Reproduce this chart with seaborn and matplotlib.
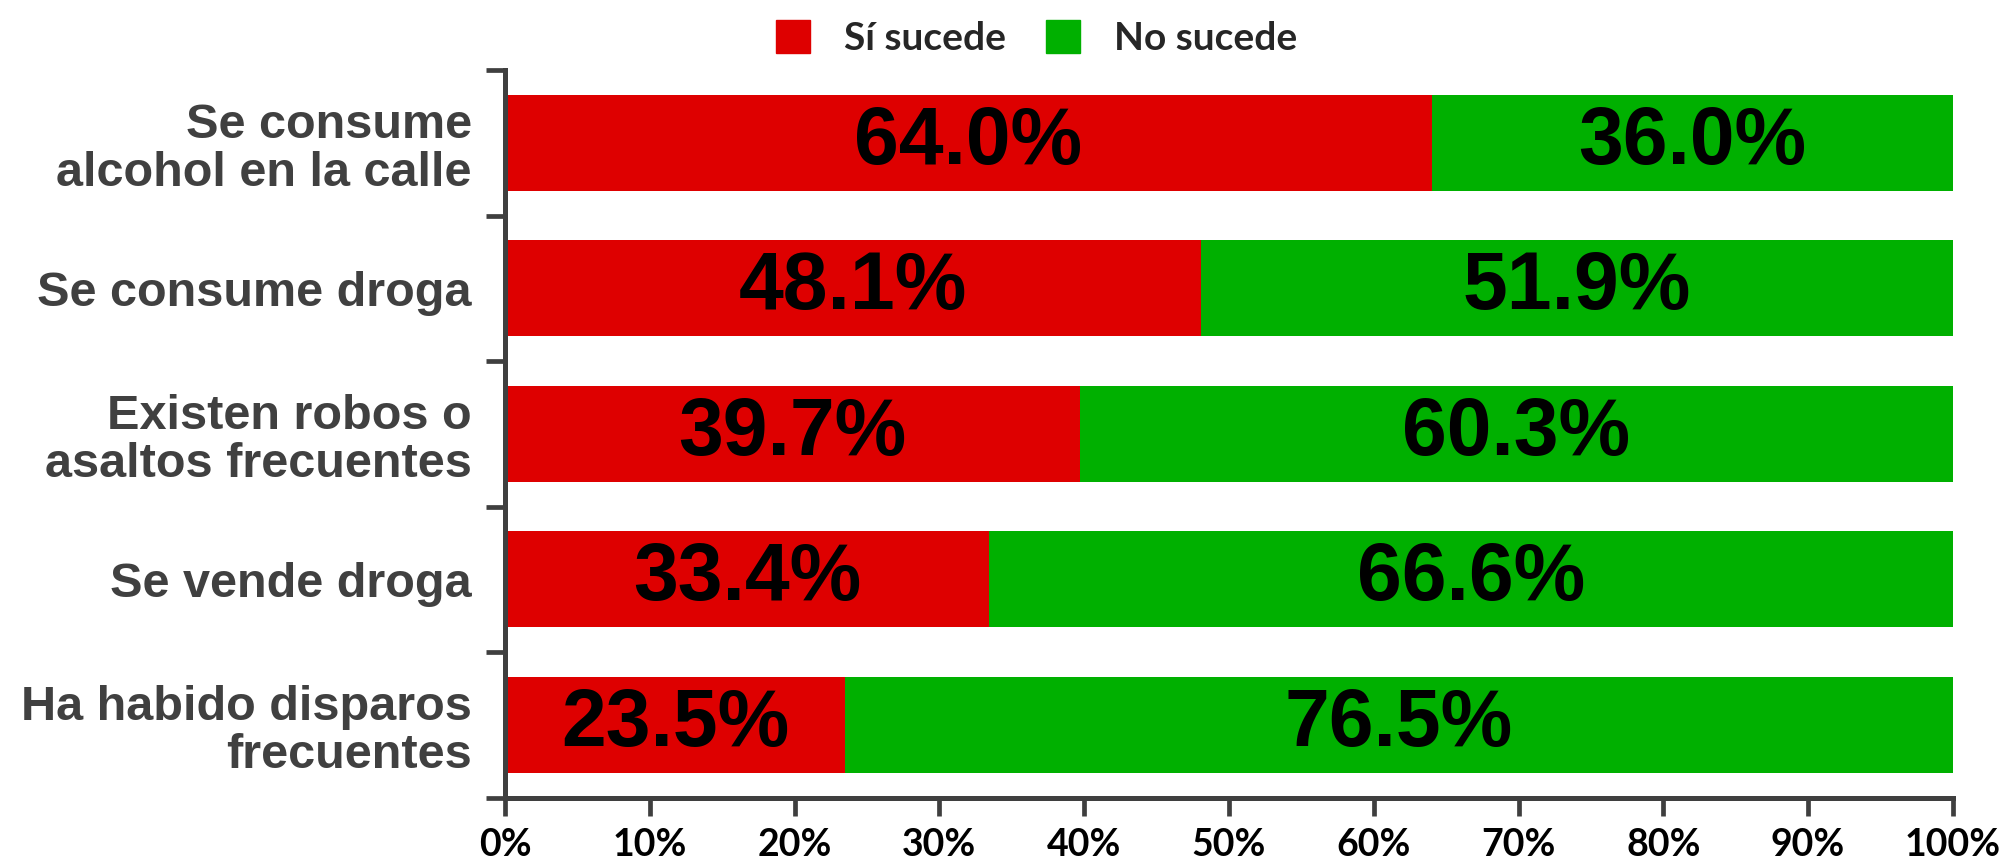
import seaborn as sns
import matplotlib.pyplot as plt
import matplotlib.patches as mpatches
import pandas as pd

RED = '#DE0000'
GREEN = '#00B000'
AXIS_GREY = '#3f3f3f'

categories = ['Se consume\nalcohol en la calle',
              'Se consume droga',
              'Existen robos o\nasaltos frecuentes',
              'Se vende droga',
              'Ha habido disparos\nfrecuentes']
si_sucede = [64.0, 48.1, 39.7, 33.4, 23.5]
no_sucede = [36.0, 51.9, 60.3, 66.6, 76.5]
x_ticks = [0, 10, 20, 30, 40, 50, 60, 70, 80, 90, 100]
legend_labels = ['Sí sucede', 'No sucede']

df = pd.DataFrame({'categoria': categories, 'si': si_sucede, 'no': no_sucede})
df['total'] = df['si'] + df['no']

sns.set_theme(style='white')
plt.rcParams['font.family'] = ['Liberation Sans', 'DejaVu Sans']

fig = plt.figure(figsize=(20.05, 8.61), dpi=100)
ax = fig.add_axes([0.2519, 0.0735, 0.7221, 0.845])

# stacked bars: full length green first, red on top
sns.barplot(data=df, x='total', y='categoria', color=GREEN, width=0.66,
            saturation=1, ax=ax, orient='h', linewidth=0)
sns.barplot(data=df, x='si', y='categoria', color=RED, width=0.66,
            saturation=1, ax=ax, orient='h', linewidth=0)

# value labels
for i, (s, n) in enumerate(zip(si_sucede, no_sucede)):
    ax.text(s / 2, i, f'{s:.1f}%', ha='center', va='center',
            fontsize=58, fontweight='bold', color='black')
    ax.text(s + n / 2, i, f'{n:.1f}%', ha='center', va='center',
            fontsize=58, fontweight='bold', color='black')

ax.set_xlim(0, 100)
ax.set_ylim(4.5, -0.5)
ax.set_xlabel('')
ax.set_ylabel('')

ax.set_xticks(x_ticks)
ax.set_xticklabels([f'{t}%' for t in x_ticks], fontsize=27, fontweight='bold',
                   family='Lato', color='black')
ax.tick_params(axis='x', direction='out', length=13, width=3.4,
               color=AXIS_GREY, pad=9, bottom=True)

ax.set_yticks(range(len(categories)))
ax.set_yticklabels(categories, fontsize=35, fontweight='bold', color='#404040',
                   linespacing=1.1)
ax.tick_params(axis='y', which='major', length=0, pad=24)
ax.set_yticks([-0.5, 0.5, 1.5, 2.5, 3.5, 4.5], minor=True)
ax.tick_params(axis='y', which='minor', direction='out', length=14, width=3.4,
               color=AXIS_GREY, left=True)

for side in ['top', 'right']:
    ax.spines[side].set_visible(False)
for side in ['left', 'bottom']:
    ax.spines[side].set_color(AXIS_GREY)
    ax.spines[side].set_linewidth(3.6)

handles = [mpatches.Patch(color=RED), mpatches.Patch(color=GREEN)]
leg = fig.legend(handles, legend_labels, loc='center',
                 bbox_to_anchor=(0.517, 0.956), ncol=2, frameon=False,
                 handlelength=0.87, handleheight=0.92, columnspacing=1.05,
                 handletextpad=0.87, borderpad=0,
                 prop={'family': 'Lato', 'weight': 'bold', 'size': 28})

fig.savefig('out.png', dpi=100, facecolor='white')
